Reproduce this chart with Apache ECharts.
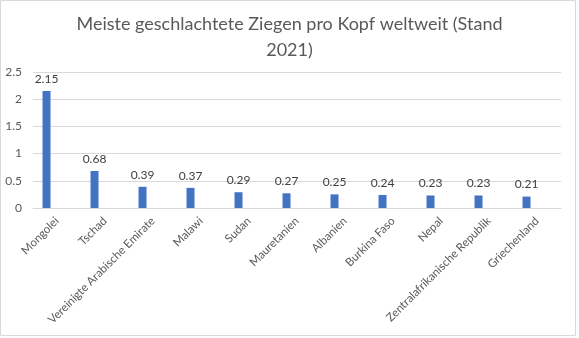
<!DOCTYPE html>
<html>
<head>
<meta charset="utf-8">
<script src="https://cdn.jsdelivr.net/npm/echarts@6/dist/echarts.min.js"></script>
<style>
html,body{margin:0;padding:0;background:#fff;}
#c{width:579px;height:338px;}
</style>
</head>
<body>
<div id="c"></div>
<script>
const titleText = "Meiste geschlachtete Ziegen pro Kopf weltweit (Stand\n2021)";
const categories = ["Mongolei","Tschad","Vereinigte Arabische Emirate","Malawi","Sudan","Mauretanien","Albanien","Burkina Faso","Nepal","Zentralafrikanische Republik","Griechenland"];
const values = [2.15,0.68,0.39,0.37,0.29,0.27,0.25,0.24,0.23,0.23,0.21];
const yTicks = [0,0.5,1,1.5,2,2.5];

const font = "Lato, 'Open Sans', sans-serif";
const chart = echarts.init(document.getElementById('c'), null, {renderer:'canvas'});
chart.setOption({
  animation:false,
  backgroundColor:'#fff',
  graphic:[{type:'rect',shape:{x:0.5,y:0.5,width:575,height:335},style:{fill:'none',stroke:'#D9D9D9',lineWidth:1},silent:true}],
  title:{text:titleText,left:'center',top:6,textStyle:{fontFamily:font,fontSize:18,fontWeight:'normal',color:'#595959',lineHeight:26}},
  grid:{left:33,right:18,top:72,bottom:130,containLabel:false},
  xAxis:{type:'category',data:categories,
    axisLine:{lineStyle:{color:'#D9D9D9'}},axisTick:{show:false},
    axisLabel:{rotate:45,interval:0,margin:11,color:'#595959',fontFamily:font,fontSize:11.5}},
  yAxis:{type:'value',min:yTicks[0],max:yTicks[yTicks.length-1],interval:0.5,
    axisLine:{show:false},axisTick:{show:false},
    splitLine:{lineStyle:{color:'#D9D9D9'}},
    axisLabel:{margin:11,color:'#595959',fontFamily:font,fontSize:12,formatter:v=>String(v)}},
  series:[
    {type:'bar',data:values,barWidth:8,barGap:'162%',itemStyle:{color:'#4472C4'},
     label:{show:true,position:'top',distance:6,color:'#404040',fontFamily:font,fontSize:12,formatter:p=>p.value.toFixed(2)}},
    {type:'bar',data:categories.map(()=>null),barWidth:8}
  ]
});
</script>
</body>
</html>
